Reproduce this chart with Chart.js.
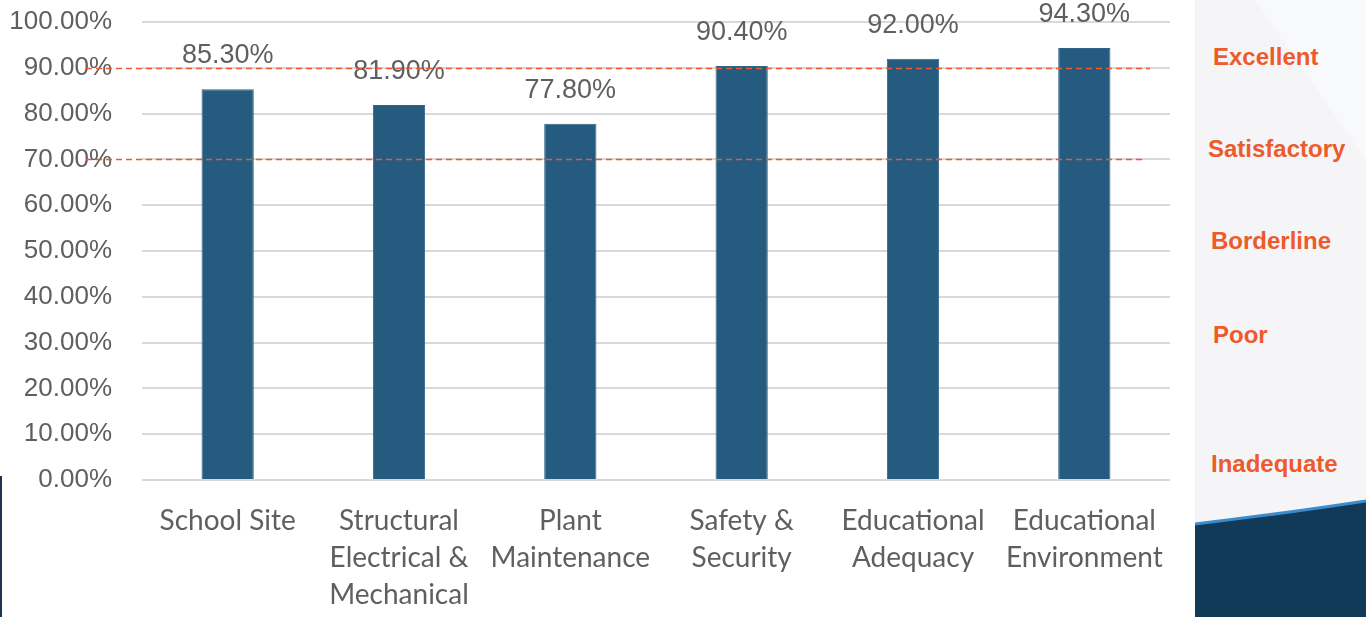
<!DOCTYPE html>
<html>
<head>
<meta charset="utf-8">
<script src="https://cdn.jsdelivr.net/npm/chart.js@4.4.1/dist/chart.umd.min.js"></script>
<style>
  html, body { margin: 0; padding: 0; width: 1366px; height: 617px; overflow: hidden; background: #ffffff; }
  #chartBox { position: absolute; left: 0; top: 0; width: 1195px; height: 617px; }
  #panel { position: absolute; left: 1195px; top: 0; width: 171px; height: 617px; background: #f5f5f7; overflow: hidden; }
  #panel svg { position: absolute; left: 0; top: 0; }
  .rating { position: absolute; font-family: "Liberation Sans", Arial, sans-serif; font-weight: bold; font-size: 24px; color: #ee5a2a; white-space: nowrap; line-height: 1; }
  #edge { position: absolute; left: 0; top: 476px; width: 2px; height: 141px; background: #1d3550; }
</style>
</head>
<body>
<div id="chartBox"><canvas id="c"></canvas></div>
<div id="panel">
  <svg width="171" height="617" viewBox="0 0 171 617">
    <path d="M0,0 L60,0 L171,160 L171,0 Z" fill="#f8f9fa"/>
    <path d="M0,524 Q85,514 171,501 L171,617 L0,617 Z" fill="#113a58"/>
    <path d="M0,524 Q85,514 171,501" fill="none" stroke="#3a8ccc" stroke-width="3"/>
  </svg>
</div>
<div id="edge"></div>
<script>
// Facility assessment scores by category
const categories = [
  ["School Site"],
  ["Structural", "Electrical &", "Mechanical"],
  ["Plant", "Maintenance"],
  ["Safety &", "Security"],
  ["Educational", "Adequacy"],
  ["Educational", "Environment"]
];
const scores = [85.3, 81.9, 77.8, 90.4, 92.0, 94.3];
const yTicks = [0, 10, 20, 30, 40, 50, 60, 70, 80, 90, 100];
const thresholds = [90, 70];
const ratingLabels = ["Excellent", "Satisfactory", "Borderline", "Poor", "Inadequate"];
const ratingTops = [45, 137, 229, 323, 452];
const ratingLefts = [18, 13, 16, 18, 16];

// Rating scale on the right-hand panel
const panel = document.getElementById('panel');
ratingLabels.forEach((t, i) => {
  const d = document.createElement('div');
  d.className = 'rating';
  d.textContent = t;
  d.style.top = ratingTops[i] + 'px';
  d.style.left = ratingLefts[i] + 'px';
  panel.appendChild(d);
});

const textGrey = '#5f5f5f';

// Value labels above each bar
const valueLabels = {
  id: 'valueLabels',
  afterDatasetsDraw(chart) {
    const ctx = chart.ctx;
    const meta = chart.getDatasetMeta(0);
    ctx.save();
    ctx.font = '27px "Liberation Sans", Arial, sans-serif';
    ctx.fillStyle = textGrey;
    ctx.textAlign = 'center';
    ctx.textBaseline = 'bottom';
    meta.data.forEach((bar, i) => {
      ctx.fillText(scores[i].toFixed(2) + '%', bar.x, bar.y - 20);
    });
    ctx.restore();
  }
};

// Dashed threshold lines for the rating bands
const thresholdLines = {
  id: 'thresholdLines',
  afterDraw(chart) {
    const ctx = chart.ctx;
    const y = chart.scales.y;
    const a = chart.chartArea;
    ctx.save();
    ctx.strokeStyle = '#f0582a';
    ctx.lineWidth = 1.3;
    ctx.setLineDash([6, 4]);
    thresholds.forEach((v, i) => {
      const py = Math.round(y.getPixelForValue(v)) + 0.5;
      ctx.beginPath();
      ctx.moveTo(a.left - 56, py);
      ctx.lineTo(a.right - (i === 0 ? 20 : 25), py);
      ctx.stroke();
    });
    ctx.restore();
  }
};

new Chart(document.getElementById('c'), {
  type: 'bar',
  data: {
    labels: categories,
    datasets: [{
      data: scores,
      backgroundColor: '#255b7e',
      borderColor: '#2f6688',
      borderWidth: 1,
      categoryPercentage: 1,
      barPercentage: 0.305
    }]
  },
  options: {
    responsive: true,
    maintainAspectRatio: false,
    animation: false,
    layout: { padding: { top: 22, right: 25, left: 0, bottom: 0 } },
    plugins: { legend: { display: false }, tooltip: { enabled: false } },
    scales: {
      x: {
        grid: { display: false },
        border: { display: false },
        ticks: {
          color: textGrey,
          font: { family: 'Lato, "Liberation Sans", sans-serif', size: 28, lineHeight: 1.33 },
          padding: 14,
          maxRotation: 0,
          autoSkip: false
        },
        afterFit(scale) { scale.height = 137; scale.paddingLeft = 0; scale.paddingRight = 0; }
      },
      y: {
        min: 0,
        max: 100,
        afterBuildTicks(scale) { scale.ticks = yTicks.map(v => ({ value: v })); },
        grid: { color: '#d9d9d9', lineWidth: 2, drawTicks: false },
        border: { display: false },
        ticks: {
          color: textGrey,
          font: { family: '"Liberation Sans", Arial, sans-serif', size: 26 },
          padding: 30,
          callback: v => v.toFixed(2) + '%'
        },
        afterFit(scale) { scale.width = 142; scale.paddingTop = 0; scale.paddingBottom = 0; }
      }
    }
  },
  plugins: [valueLabels, thresholdLines]
});
</script>
</body>
</html>
